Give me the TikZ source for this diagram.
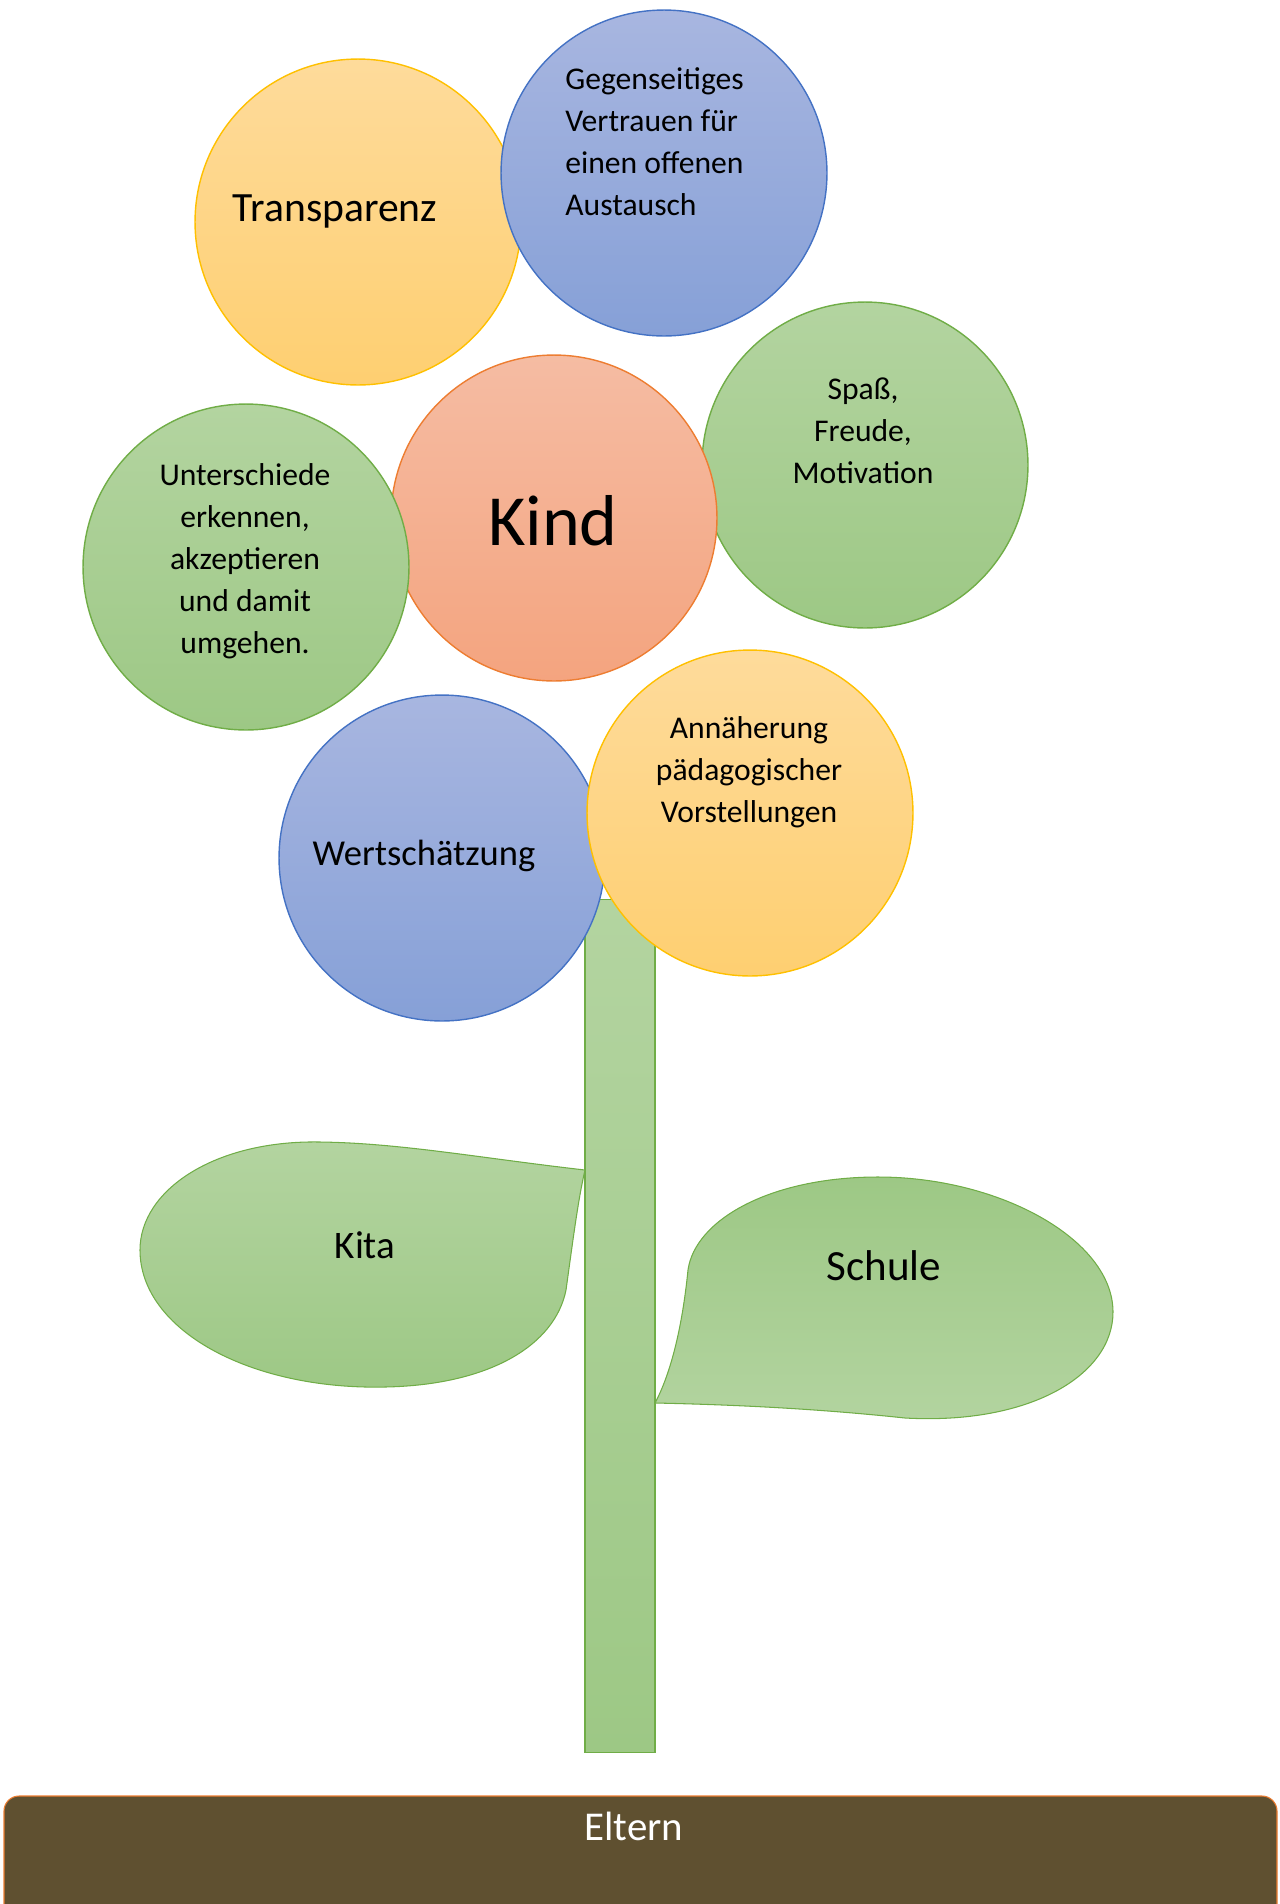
\documentclass[tikz,border=0pt]{standalone}
\usepackage{fontspec}
\setmainfont{Carlito}
\definecolor{yellowtop}{HTML}{FEDB9B}
\definecolor{yellowbot}{HTML}{FECF71}
\definecolor{yellowline}{HTML}{FFC000}
\definecolor{bluetop}{HTML}{A8B6E0}
\definecolor{bluebot}{HTML}{86A0D7}
\definecolor{blueline}{HTML}{4472C4}
\definecolor{greentop}{HTML}{B3D4A0}
\definecolor{greenbot}{HTML}{9DC885}
\definecolor{greenline}{HTML}{70AD47}
\definecolor{kindtop}{HTML}{F5BCA3}
\definecolor{kindbot}{HTML}{F4A47F}
\definecolor{kindline}{HTML}{ED7D31}
\definecolor{soil}{HTML}{5F5030}
\begin{document}
\begin{tikzpicture}[x=0.02cm, y=-0.02cm,
    bubble/.style={circle, minimum size=6.52cm, inner sep=0pt, line width=0.8pt},
    yellowbubble/.style={bubble, draw=yellowline, top color=yellowtop, bottom color=yellowbot},
    bluebubble/.style={bubble, draw=blueline, top color=bluetop, bottom color=bluebot},
    greenbubble/.style={bubble, draw=greenline, top color=greentop, bottom color=greenbot},
    txt/.style={inner sep=0pt, align=center, font=\fontsize{18}{23.9}\selectfont},
    bigtxt/.style={inner sep=0pt, font=\fontsize{#1}{#1}\selectfont}]
    \clip (0,0) rectangle (1279,1904);

    % Blüte
    \node[yellowbubble] (transparenz) at (358,222) {};
    \node[bigtxt=23.7] (ttransparenz) at (335,211) {Transparenz};
    \node[bluebubble] (vertrauen) at (664,173) {};
    \node[txt, align=left, anchor=west] (tvertrauen) at (565,142)
        {Gegenseitiges\\Vertrauen für\\einen offenen\\Austausch};
    \node[greenbubble] (spass) at (865,465) {};
    \node[txt] (tspass) at (863,431) {Spaß,\\Freude,\\Motivation};
    \node[bubble, draw=kindline, top color=kindtop, bottom color=kindbot] (kind) at (554,518) {};
    \node[bigtxt=41] (tkind) at (553,521) {Kind};
    \node[greenbubble] (unterschiede) at (246,567) {};
    \node[txt] (tunterschiede) at (245,561)
        {Unterschiede\\erkennen,\\akzeptieren\\und damit\\umgehen.};

    % Stiel und Blätter
    \node[draw=greenline, line width=0.6pt, top color=greentop, bottom color=greenbot,
        minimum width=1.4cm, minimum height=17.08cm, inner sep=0pt] (stiel) at (620,1326) {};
    \draw[greenline, line width=0.6pt, top color=greentop, bottom color=greenbot]
        (585,1170) .. controls (480,1158) and (400,1143) .. (320,1142)
        .. controls (215,1140) and (140,1190) .. (140,1250)
        .. controls (140,1330) and (250,1390) .. (385,1387)
        .. controls (490,1385) and (555,1345) .. (566,1290)
        .. controls (573,1240) and (578,1200) .. cycle;
    \node[bigtxt=22.2] (kita) at (365,1245) {Kita};
    \draw[greenline, line width=0.6pt, top color=greenbot, bottom color=greentop]
        (655,1403) .. controls (750,1405) and (830,1410) .. (905,1418)
        .. controls (1030,1425) and (1113,1375) .. (1113,1312)
        .. controls (1113,1240) and (1000,1177) .. (878,1177)
        .. controls (770,1177) and (695,1220) .. (688,1270)
        .. controls (682,1330) and (670,1375) .. cycle;
    \node[bigtxt=24.5] (schule) at (884,1266) {Schule};

    \node[bluebubble] (wert) at (442,858) {};
    \node[bigtxt=20.8] (twert) at (424,856) {Wertschätzung};
    \node[yellowbubble] (annaeherung) at (750,813) {};
    \node[txt] (tannaeherung) at (749,772) {Annäherung\\pädagogischer\\Vorstellungen};

    % Boden
    \draw[kindline, line width=0.6pt, fill=soil, rounded corners=0.3cm] (4,1796) rectangle (1277,1930);
    \node[bigtxt=23.3, text=white] (eltern) at (634,1826) {Eltern};
\end{tikzpicture}
\end{document}
